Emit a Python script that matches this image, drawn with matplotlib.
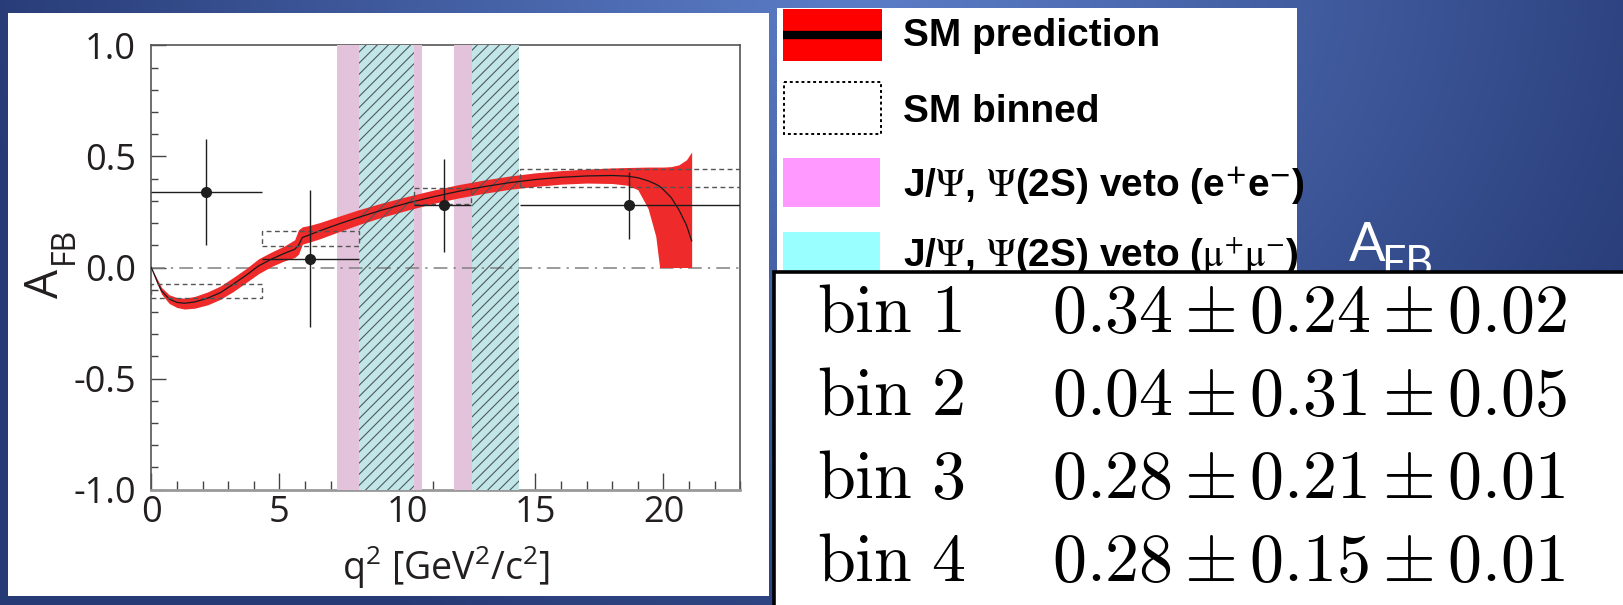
import numpy as np
import matplotlib.pyplot as plt
from matplotlib.patches import Rectangle
from matplotlib.ticker import MultipleLocator, FormatStrFormatter
from matplotlib.colors import to_rgb

plt.rcParams['axes.unicode_minus'] = False
plt.rcParams['hatch.linewidth'] = 0.8

W, H, DPI = 1623, 605, 100

# SM prediction: central curve and band edges vs q^2
q2_sm = [0.0, 0.2, 0.4, 0.7, 1.0, 1.3, 1.7, 2.2, 2.7, 3.2, 3.7, 4.2, 4.7, 5.2, 5.6,
         5.75, 5.9, 6.2, 6.6, 7.3, 8.1, 9.0, 10.0, 11.0, 12.0, 13.0, 14.0, 15.0,
         16.0, 17.0, 18.0, 18.6, 19.0, 19.4, 19.7, 19.85, 20.0, 20.3, 20.6, 20.9, 21.1]
afb_sm = [0.0, -0.055, -0.105, -0.142, -0.157, -0.161, -0.155, -0.138, -0.113, -0.075,
          -0.035, 0.008, 0.038, 0.064, 0.082, 0.10, 0.135, 0.148, 0.166, 0.195, 0.226,
          0.258, 0.29, 0.318, 0.343, 0.364, 0.382, 0.396, 0.406, 0.412, 0.414, 0.411,
          0.404, 0.39, 0.375, 0.365, 0.35, 0.315, 0.26, 0.19, 0.12]
afb_sm_hi = [0.0, -0.045, -0.09, -0.123, -0.135, -0.138, -0.13, -0.11, -0.083, -0.045,
             -0.005, 0.04, 0.07, 0.097, 0.125, 0.17, 0.183, 0.19, 0.203, 0.23, 0.26,
             0.29, 0.32, 0.348, 0.373, 0.394, 0.412, 0.426, 0.436, 0.443, 0.448, 0.45,
             0.451, 0.452, 0.452, 0.452, 0.452, 0.454, 0.462, 0.485, 0.52]
afb_sm_lo = [0.0, -0.065, -0.12, -0.162, -0.18, -0.187, -0.183, -0.168, -0.143, -0.108,
             -0.068, -0.027, 0.005, 0.03, 0.045, 0.06, 0.105, 0.115, 0.13, 0.16, 0.193,
             0.226, 0.258, 0.288, 0.313, 0.334, 0.352, 0.365, 0.375, 0.38, 0.378, 0.37,
             0.35, 0.265, 0.14, 0.0, 0.0, 0.0, 0.0, 0.0, 0.0]

# measured A_FB per q^2 bin
bin_names = ['bin 1', 'bin 2', 'bin 3', 'bin 4']
bin_lo = [0.0, 4.33, 10.25, 14.39]
bin_hi = [4.33, 8.12, 12.5, 25.0]
bin_q2 = [2.14, 6.21, 11.42, 18.66]
bin_afb = [0.34, 0.04, 0.28, 0.28]
bin_stat = [0.24, 0.31, 0.21, 0.15]
bin_syst = [0.02, 0.05, 0.01, 0.01]

# SM prediction integrated over each bin
smbin_lo = [-0.138, 0.097, 0.285, 0.362]
smbin_hi = [-0.076, 0.163, 0.357, 0.444]

# charmonium veto windows
veto_ee = [(7.27, 10.58), (11.82, 14.0)]
veto_mm = [(8.10, 10.25), (12.52, 14.37)]

legend_labels = ['SM prediction', 'SM binned',
                 r'J/$\Psi$, $\Psi$(2S) veto (e$^{\mathbf{+}}$e$^{\mathbf{-}}$)',
                 r'J/$\Psi$, $\Psi$(2S) veto ($\mathrm{\mu}^{+}\mathrm{\mu}^{-}$)']

fig = plt.figure(figsize=(W / DPI, H / DPI), dpi=DPI)

# slide background, panels, legend and table in pixel coordinates
bg = fig.add_axes([0, 0, 1, 1])
bg.set_xlim(0, W)
bg.set_ylim(H, 0)
bg.axis('off')
yy, xx = np.mgrid[0:H, 0:W]
d = np.clip(np.hypot((xx - 860) / 900.0, (yy + 40) / 760.0), 0, 1)[..., None]
light = np.array(to_rgb('#5d7fca'))
dark = np.array(to_rgb('#263a75'))
bg.imshow(light * (1 - d) + dark * d, extent=(0, W, H, 0), aspect='auto', zorder=0)

bg.add_patch(Rectangle((8, 13), 761, 583, fc='white', ec='none', zorder=1))
bg.add_patch(Rectangle((777, 8), 520, 280, fc='white', ec='none', zorder=1))

# legend entries
bg.add_patch(Rectangle((783, 9), 99, 52, fc='#ff0000', ec='none', zorder=2))
bg.plot([783, 882], [35, 35], color='black', lw=6, solid_capstyle='butt', zorder=3)
bg.add_patch(Rectangle((784, 82), 97, 52, fill=False, ec='black', ls=(0, (1.5, 1.5)),
                       lw=1.4, zorder=2))
bg.add_patch(Rectangle((783, 158), 97, 49, fc='#ff99ff', ec='none', zorder=2))
bg.add_patch(Rectangle((783, 232), 97, 60, fc='#99ffff', ec='none', zorder=2))
for lab, yb in zip(legend_labels, [46, 122, 197, 266]):
    bg.text(903, yb, lab, fontsize=28, fontweight='bold', family='Liberation Sans',
            math_fontfamily='stix', va='baseline', ha='left', zorder=3)

# white A_FB heading
bg.text(1349, 261, 'A', color='white', fontsize=39, family='Lato', va='baseline', zorder=2)
bg.text(1381, 276, 'FB', color='white', fontsize=31, family='Lato', va='baseline', zorder=2)

# y-axis title, drawn as main letter plus lowered subscript
bg.text(58, 283, 'A', fontsize=33, family='Open Sans', color='#231f20', rotation=90,
        rotation_mode='anchor', ha='center', va='baseline', zorder=3)
bg.text(73, 245, 'FB', fontsize=23, family='Open Sans', color='#231f20', rotation=90,
        rotation_mode='anchor', ha='center', va='baseline', zorder=3)

# results table
bg.add_patch(Rectangle((774, 271.5), 900, 400, fc='white', ec='black', lw=2.6, zorder=4))
for i, name in enumerate(bin_names):
    yb = 332 + 83 * i
    num, val = name.split()
    bg.text(817, yb, r'$\mathrm{%s\ %s}$' % (num, val), fontsize=49,
            math_fontfamily='cm', va='baseline', ha='left', zorder=5)
    bg.text(1052, yb, r'$%.2f \pm %.2f \pm %.2f$' % (bin_afb[i], bin_stat[i], bin_syst[i]),
            fontsize=49, math_fontfamily='cm', va='baseline', ha='left', zorder=5)

# A_FB vs q^2 plot
ax = fig.add_axes([151.3 / W, (H - 489.7) / H, 589.0 / W, 444.4 / H])
ax.set_xlim(0, 23)
ax.set_ylim(-1, 1)

for lo, hi in veto_ee:
    ax.axvspan(lo, hi, color='#e2c3db', lw=0, zorder=1)
for lo, hi in veto_mm:
    ax.axvspan(lo, hi, color='#c2e6e8', lw=0, zorder=1.1)

ax.axhline(0, color='#808080', lw=1.1, ls=(0, (9, 4, 1.5, 4)), zorder=1.5)

ax.fill_between(q2_sm, afb_sm_lo, afb_sm_hi, color='#ee2a2a', lw=0, zorder=2)
for lo, hi in veto_mm:
    ax.axvspan(lo, hi, facecolor='none', edgecolor='#4e5a5c', hatch='///', lw=0, zorder=2.5)
ax.plot(q2_sm, afb_sm, color='#1a1a1a', lw=0.9, zorder=3)

for lo, hi, a, b in zip(bin_lo, bin_hi, smbin_lo, smbin_hi):
    ax.add_patch(Rectangle((lo, a), hi - lo, b - a, fill=False, ec='#555555', lw=1.0,
                           ls=(0, (3.5, 2.5)), zorder=3))

xerr = [np.subtract(bin_q2, bin_lo), np.subtract(bin_hi, bin_q2)]
ax.errorbar(bin_q2, bin_afb, xerr=xerr, yerr=bin_stat, fmt='o', color='#1e1e1e',
            ms=7, elinewidth=1.0, capsize=0, zorder=4)

ax.xaxis.set_major_locator(MultipleLocator(5))
ax.xaxis.set_minor_locator(MultipleLocator(1))
ax.yaxis.set_major_locator(MultipleLocator(0.5))
ax.yaxis.set_minor_locator(MultipleLocator(0.1))
ax.yaxis.set_major_formatter(FormatStrFormatter('%.1f'))
ax.tick_params(which='both', direction='in', top=False, right=False, color='#444444',
               width=1.0, labelsize=26, labelcolor='#231f20', labelfontfamily='Open Sans')
ax.tick_params(axis='y', which='major', length=11, pad=11)
ax.tick_params(axis='y', which='minor', length=5)
ax.tick_params(axis='x', which='major', length=12.5, pad=4)
ax.tick_params(axis='x', which='minor', length=6.5)
ax.set_axisbelow(True)
for side in ['top', 'right', 'left']:
    ax.spines[side].set_color('#555555')
    ax.spines[side].set_linewidth(1.2)
    ax.spines[side].set_zorder(0.6)
ax.spines['bottom'].set_color('#999999')
ax.spines['bottom'].set_linewidth(2.0)
ax.spines['bottom'].set_zorder(0.6)

ax.set_xlabel(r'q$\mathregular{^2}$ [GeV$\mathregular{^2}$/c$\mathregular{^2}$]',
              fontsize=27, family='Open Sans', color='#231f20', labelpad=9)

fig.savefig('out.png', dpi=DPI)
